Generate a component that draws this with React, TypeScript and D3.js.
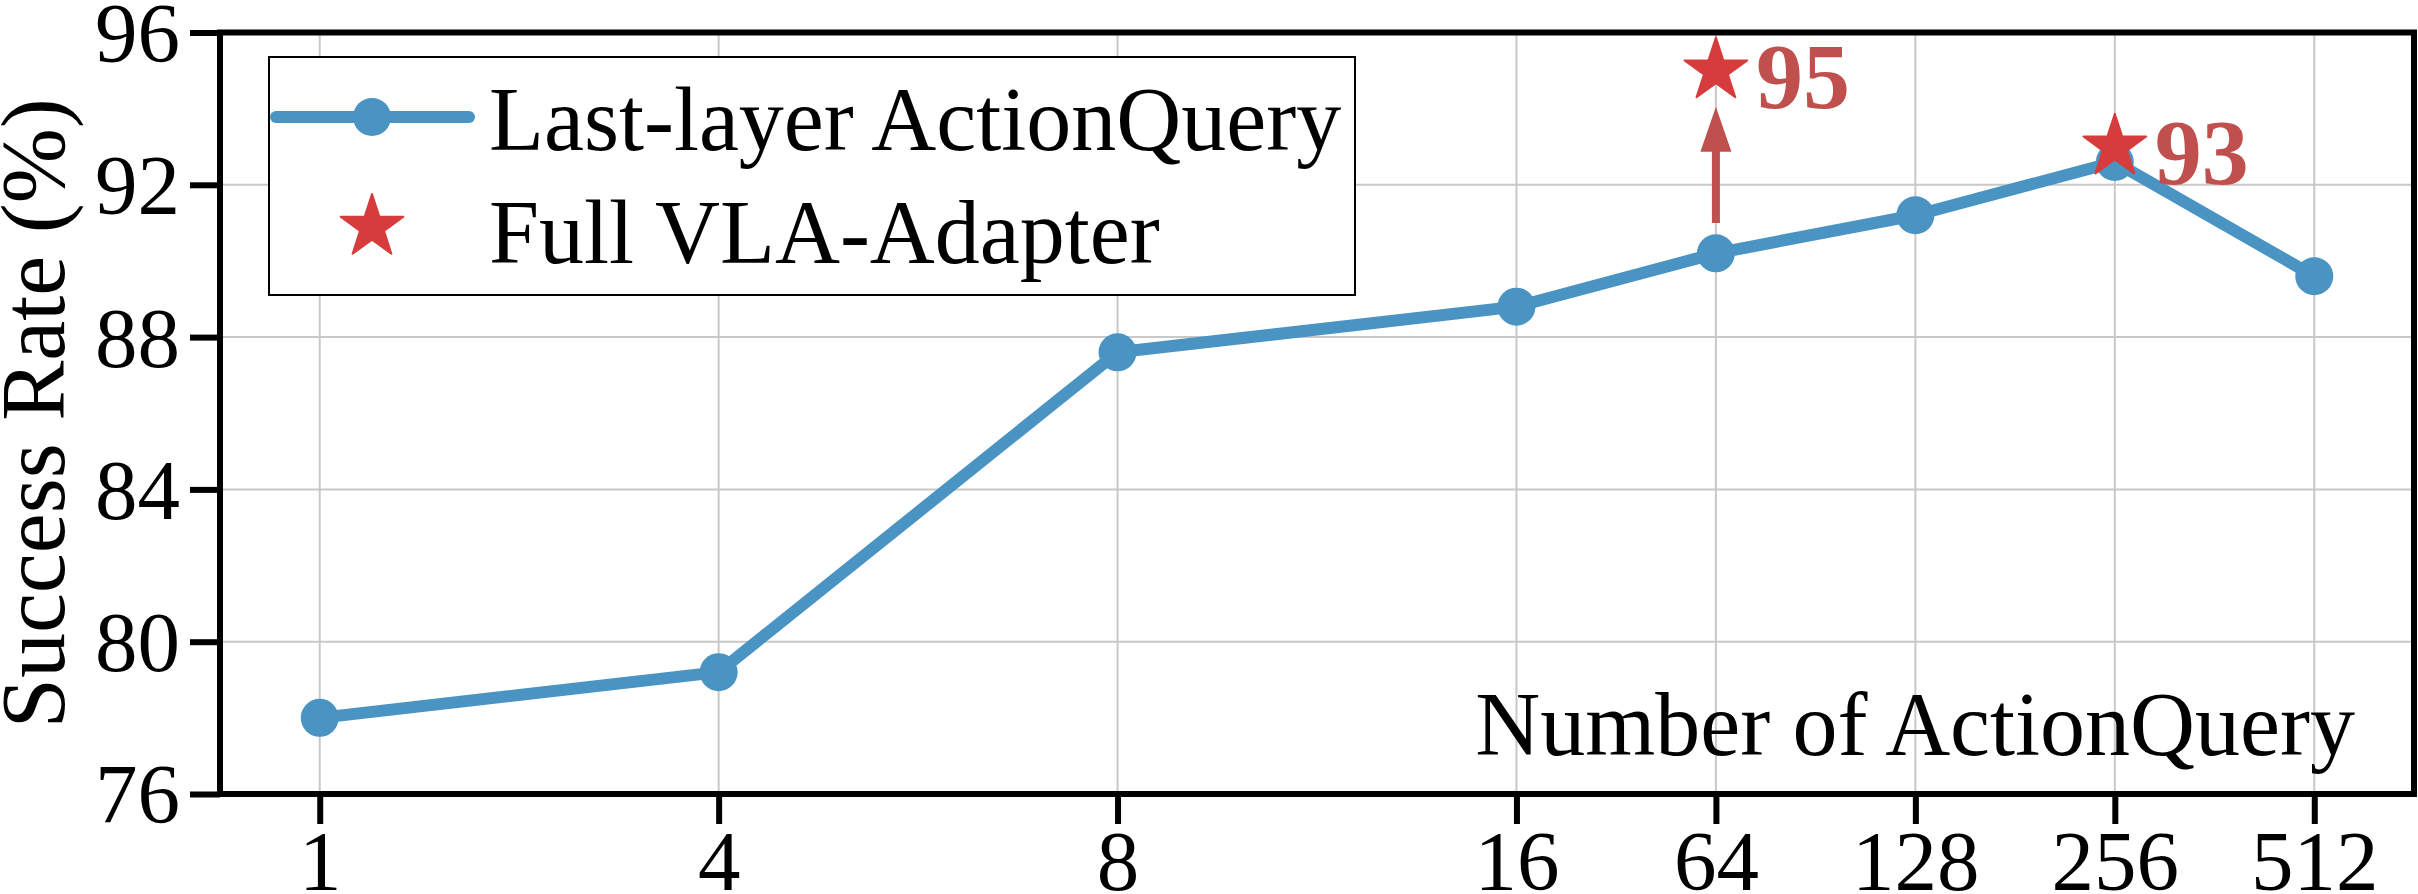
// App.tsx
import React, { useEffect, useRef } from 'react';
import * as d3 from 'd3';

// Chart data
const queryCounts = ['1', '4', '8', '16', '64', '128', '256', '512'];
const xSlots = [0, 2, 4, 6, 7, 8, 9, 10]; // uneven spacing of the categories on the x axis
const successRates = [78.0, 79.2, 87.6, 88.8, 90.2, 91.2, 92.6, 89.6];

const fullSlots = [7, 9];
const fullRates = [95, 93];
const fullLabels = ['95', '93'];

// arrow from the 64-query point up to the full-adapter star
const arrowSlot = 7;
const arrowFrom = 91.0;
const arrowTo = 94.05;

const yTicks = [76, 80, 84, 88, 92, 96];

const lineLabel = 'Last-layer ActionQuery';
const starLabel = 'Full VLA-Adapter';

const WIDTH = 2418;
const HEIGHT = 894;
const FONT = '"Liberation Serif", "Times New Roman", serif';
const BLUE = '#4a94c3';
const STAR_RED = '#d73c3c';
const LABEL_RED = '#c0504d';

const App = () => {
  const svgRef = useRef<SVGSVGElement>(null);

  useEffect(() => {
    document.body.style.margin = '0';
    if (!svgRef.current) return;

    const margin = { top: 32.5, right: 4, bottom: 100, left: 220 };
    const innerW = WIDTH - margin.left - margin.right;
    const innerH = HEIGHT - margin.top - margin.bottom;

    const svg = d3.select(svgRef.current);
    svg.selectAll('*').remove();

    const g = svg.append('g').attr('transform', `translate(${margin.left},${margin.top})`);

    const x = d3.scaleLinear().domain([-0.5, 10.5]).range([0, innerW]);
    const y = d3.scaleLinear().domain([76, 96]).range([innerH, 0]);

    // Grid
    g.append('g')
      .selectAll('line')
      .data(yTicks)
      .join('line')
      .attr('x1', 0)
      .attr('x2', innerW)
      .attr('y1', d => y(d))
      .attr('y2', d => y(d))
      .attr('stroke', '#c8c8c8')
      .attr('stroke-width', 2);
    g.append('g')
      .selectAll('line')
      .data(xSlots)
      .join('line')
      .attr('x1', d => x(d))
      .attr('x2', d => x(d))
      .attr('y1', 0)
      .attr('y2', innerH)
      .attr('stroke', '#c8c8c8')
      .attr('stroke-width', 2);

    // Axes
    const xAxis = g.append('g')
      .attr('transform', `translate(0,${innerH})`)
      .call(
        d3.axisBottom(x)
          .tickValues(xSlots)
          .tickFormat((_, i) => queryCounts[i])
          .tickSize(30)
          .tickPadding(10)
      );
    const yAxis = g.append('g')
      .call(d3.axisLeft(y).tickValues(yTicks).tickSize(30).tickPadding(10));

    [xAxis, yAxis].forEach(ax => {
      ax.select('.domain').remove();
      ax.selectAll('.tick line').attr('stroke', '#000').attr('stroke-width', 6);
      ax.selectAll('.tick text')
        .attr('fill', '#000')
        .style('font-family', FONT)
        .style('font-size', '85px');
    });
    xAxis.selectAll('.tick text').attr('dy', '0.66em');
    yAxis.selectAll('.tick text').attr('dy', '0.34em');

    // Frame
    g.append('rect')
      .attr('x', 0)
      .attr('y', 0)
      .attr('width', innerW)
      .attr('height', innerH)
      .attr('fill', 'none')
      .attr('stroke', '#000')
      .attr('stroke-width', 6);

    // Line series
    const line = d3.line<number>()
      .x((_, i) => x(xSlots[i]))
      .y(d => y(d));
    g.append('path')
      .datum(successRates)
      .attr('d', line)
      .attr('fill', 'none')
      .attr('stroke', BLUE)
      .attr('stroke-width', 12)
      .attr('stroke-linejoin', 'round');
    g.append('g')
      .selectAll('circle')
      .data(successRates)
      .join('circle')
      .attr('cx', (_, i) => x(xSlots[i]))
      .attr('cy', d => y(d))
      .attr('r', 19)
      .attr('fill', BLUE);

    // Arrow annotation
    const ax0 = x(arrowSlot);
    const yTail = y(arrowFrom);
    const yTip = y(arrowTo);
    const headLen = 45;
    const arrowPath = d3.path();
    arrowPath.moveTo(ax0 - 4, yTail);
    arrowPath.lineTo(ax0 - 4, yTip + headLen);
    arrowPath.lineTo(ax0 - 15.5, yTip + headLen);
    arrowPath.lineTo(ax0, yTip);
    arrowPath.lineTo(ax0 + 15.5, yTip + headLen);
    arrowPath.lineTo(ax0 + 4, yTip + headLen);
    arrowPath.lineTo(ax0 + 4, yTail);
    arrowPath.closePath();
    g.append('path').attr('d', arrowPath.toString()).attr('fill', LABEL_RED);

    // Stars
    const star = d3.symbol().type(d3.symbolStar).size(1222);
    g.append('g')
      .selectAll('path')
      .data(fullRates)
      .join('path')
      .attr('d', star)
      .attr('transform', (d, i) => `translate(${x(fullSlots[i])},${y(d)})`)
      .attr('fill', STAR_RED)
      .attr('stroke', STAR_RED)
      .attr('stroke-width', 2)
      .attr('stroke-linejoin', 'round');
    g.append('g')
      .selectAll('text')
      .data(fullRates)
      .join('text')
      .attr('x', (_, i) => x(fullSlots[i]) + 40)
      .attr('y', d => y(d) + 37)
      .attr('fill', LABEL_RED)
      .style('font-family', FONT)
      .style('font-weight', 'bold')
      .style('font-size', '94px')
      .text((_, i) => fullLabels[i]);

    // x-axis title inside the plot
    g.append('text')
      .attr('x', innerW - 59)
      .attr('y', innerH - 39)
      .attr('text-anchor', 'end')
      .style('font-family', FONT)
      .style('font-size', '90px')
      .text('Number of ActionQuery');

    // y-axis title
    svg.append('text')
      .attr('transform', `translate(64,${margin.top + innerH / 2}) rotate(-90)`)
      .attr('text-anchor', 'middle')
      .style('font-family', FONT)
      .style('font-size', '90px')
      .text('Success Rate (%)');

    // Legend
    const legend = svg.append('g').attr('transform', 'translate(269,57)');
    legend.append('rect')
      .attr('width', 1086)
      .attr('height', 238)
      .attr('fill', '#fff')
      .attr('stroke', '#000')
      .attr('stroke-width', 2);
    legend.append('line')
      .attr('x1', 7)
      .attr('x2', 200)
      .attr('y1', 60)
      .attr('y2', 60)
      .attr('stroke', BLUE)
      .attr('stroke-width', 12)
      .attr('stroke-linecap', 'round');
    legend.append('circle').attr('cx', 103).attr('cy', 60).attr('r', 19).attr('fill', BLUE);
    legend.append('path')
      .attr('d', star)
      .attr('transform', 'translate(103,170)')
      .attr('fill', STAR_RED)
      .attr('stroke', STAR_RED)
      .attr('stroke-width', 2)
      .attr('stroke-linejoin', 'round');
    legend.selectAll('text.label')
      .data([lineLabel, starLabel])
      .join('text')
      .attr('class', 'label')
      .attr('x', 220)
      .attr('y', (_, i) => 93 + i * 113)
      .style('font-family', FONT)
      .style('font-size', '90px')
      .text(d => d);
  }, []);

  return (
    <svg
      ref={svgRef}
      width={WIDTH}
      height={HEIGHT}
      style={{ display: 'block', background: '#fff' }}
    />
  );
};

export default App;
